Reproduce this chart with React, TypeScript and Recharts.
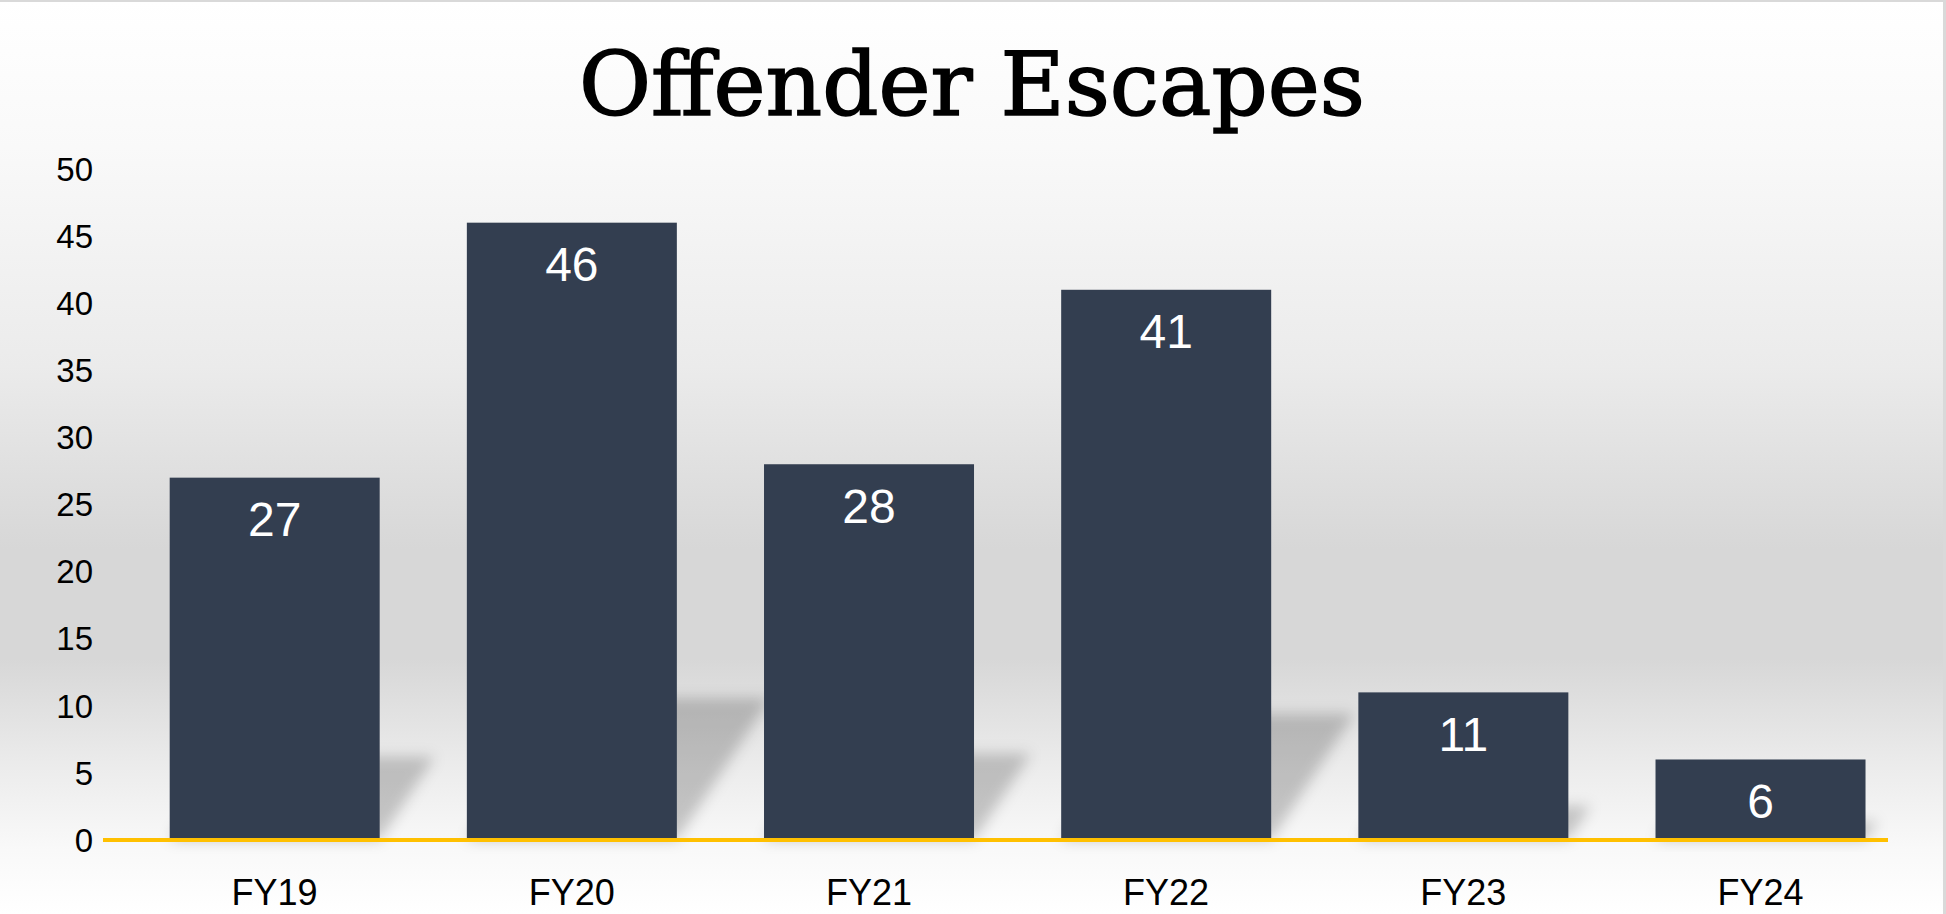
import { BarChart, Bar, XAxis, YAxis, LabelList } from 'recharts';

const years = ['FY19', 'FY20', 'FY21', 'FY22', 'FY23', 'FY24'];
const escapes = [27, 46, 28, 41, 11, 6];
const yTicks = [0, 5, 10, 15, 20, 25, 30, 35, 40, 45, 50];

const data = years.map((year, i) => ({ year, escapes: escapes[i] }));

const W = 1946;
const H = 914;
const AXIS_Y = 838;
const BAR_COLOR = '#333e50';
const SANS = '"Liberation Sans", Arial, sans-serif';

// bar with a soft slanted shadow cast up-right behind it
function ShadowBar(props: any) {
  const { x, y, width, height } = props;
  if (!height) return null;
  const bottom = y + height;
  const hs = height * 0.23;
  const dx = hs * 0.66;
  const pts = [
    [x, bottom],
    [x + width, bottom],
    [x + width + dx, bottom - hs],
    [x + dx, bottom - hs],
  ]
    .map((p) => p.join(','))
    .join(' ');
  return (
    <g>
      <polygon points={pts} fill="#000" fillOpacity={0.2} filter="url(#barShadow)" />
      <rect x={x} y={y} width={width} height={height} fill={BAR_COLOR} />
    </g>
  );
}

function ValueLabel(props: any) {
  const { x, y, width, value } = props;
  return (
    <text
      x={x + width / 2}
      y={y + 42}
      textAnchor="middle"
      dominantBaseline="central"
      fill="#ffffff"
      fontSize={48}
      fontFamily={SANS}
    >
      {value}
    </text>
  );
}

export default function App() {
  return (
    <div
      style={{
        position: 'absolute',
        left: 0,
        top: 0,
        width: W,
        height: H,
        boxSizing: 'border-box',
        borderTop: '2px solid #d9d9d9',
        borderRight: '3px solid #d9d9d9',
        background:
          'linear-gradient(to bottom, #ffffff 0%, #f9f9f9 16%, #ebebeb 40%, #d7d7d7 60%, #d7d7d7 72%, #ececec 84%, #f9f9f9 93%, #ffffff 100%)',
        overflow: 'hidden',
      }}
    >
      <svg width={W} height={140} style={{ position: 'absolute', left: 0, top: 0 }}>
        <text
          x={972}
          y={113}
          textAnchor="middle"
          fontFamily='"DejaVu Serif", serif'
          fontSize={88}
          textLength={786}
          lengthAdjust="spacingAndGlyphs"
          fill="#000"
          stroke="#000"
          strokeWidth={1.6}
        >
          Offender Escapes
        </text>
      </svg>
      <div style={{ position: 'absolute', left: 0, top: 0 }}>
        <BarChart
          width={W}
          height={H}
          data={data}
          margin={{ top: 167, right: 58, bottom: 0, left: 0 }}
          barCategoryGap="14.7%"
        >
          <defs>
            <filter id="barShadow" x="-30%" y="-60%" width="180%" height="220%">
              <feGaussianBlur stdDeviation="7" />
            </filter>
          </defs>
          <XAxis
            dataKey="year"
            height={H - AXIS_Y}
            padding={{ left: 23, right: -21 }}
            axisLine={{ stroke: '#ffc000', strokeWidth: 4 }}
            tickLine={false}
            tickSize={0}
            tickMargin={39}
            tick={{ fill: '#000', fontSize: 36, fontFamily: SANS }}
          />
          <YAxis
            width={103}
            domain={[0, 50]}
            ticks={yTicks}
            axisLine={false}
            tickLine={false}
            tickSize={0}
            tickMargin={10}
            tick={{ fill: '#000', fontSize: 33, fontFamily: SANS }}
          />
          <Bar dataKey="escapes" shape={<ShadowBar />} isAnimationActive={false}>
            <LabelList dataKey="escapes" content={<ValueLabel />} />
          </Bar>
        </BarChart>
      </div>
    </div>
  );
}
